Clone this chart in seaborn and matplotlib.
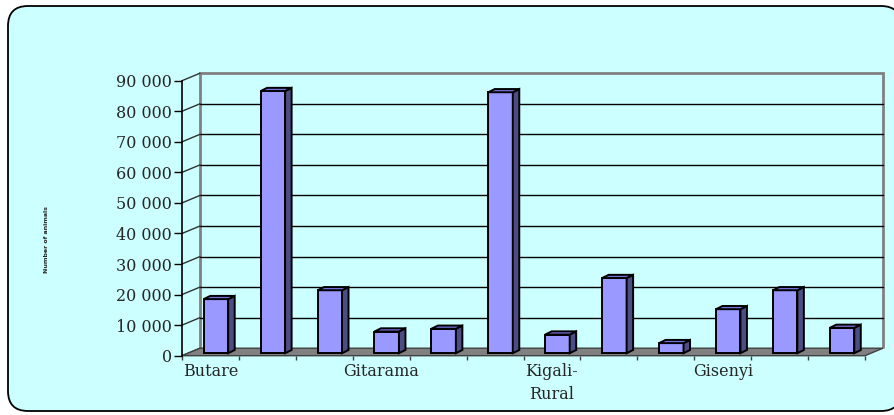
import numpy as np
import pandas as pd
import matplotlib
matplotlib.use("Agg")
import matplotlib.pyplot as plt
import seaborn as sns
from matplotlib.patches import Polygon, FancyBboxPatch
from matplotlib.lines import Line2D
from matplotlib.transforms import Affine2D, IdentityTransform

# ---- data ----
regions = ["Butare", "Gikongoro", "Cyangugu", "Gitarama", "Kibuye", "Kigali-Ville",
           "Kigali-Rural", "Kibungo", "Umutara", "Gisenyi", "Byumba", "Ruhengeri"]
counts = [17700, 85800, 20600, 7100, 8000, 85400, 6100, 24600, 3300, 14400, 20600, 8300]
shown_labels = ["Butare", "Gitarama", "Kigali-Rural", "Gisenyi"]
yticks = [0, 10000, 20000, 30000, 40000, 50000, 60000, 70000, 80000, 90000]
ytick_labels = ["0", "10 000", "20 000", "30 000", "40 000", "50 000",
                "60 000", "70 000", "80 000", "90 000"]
ylabel = "Number of animals"

sns.set_theme(style="white")
plt.rcParams["font.family"] = ["DejaVu Serif"]

W, H = 895, 415
fig = plt.figure(figsize=(W / 100, H / 100), dpi=100)
fig.patch.set_facecolor("white")
CYAN = "#CCFFFF"

# rounded background
bg = FancyBboxPatch((8, H - 411), 893, 405, boxstyle="round,pad=0,rounding_size=20",
                    transform=IdentityTransform(), facecolor=CYAN, edgecolor="black",
                    linewidth=1.3, zorder=0)
fig.add_artist(bg)

# front plane of the chart
x_left, x_right = 182, 865
y_bot, y_top = H - 355.7, H - 80.7
ax = fig.add_axes([x_left / W, y_bot / H, (x_right - x_left) / W, (y_top - y_bot) / H])
ax.set_facecolor("none")

df = pd.DataFrame({"region": regions, "count": counts})
sns.barplot(data=df, x="region", y="count", order=regions, ax=ax, color="#9999FF",
            saturation=1, width=0.43, edgecolor="black", linewidth=1.4, zorder=5)

ax.set_xlim(-0.5, len(regions) - 0.5)
ax.set_ylim(0, 90000)
ax.set_xlabel("")
ax.set_ylabel("")
ax.set_yticks(yticks)
ax.set_yticklabels(ytick_labels, fontsize=11.5)
ax.set_xticks(range(len(regions)))
ax.set_xticklabels([r.replace("-", "-\n") if r in shown_labels else "" for r in regions],
                   fontsize=11.5, linespacing=1.4)
ax.set_xticks(np.arange(-0.5, len(regions), 1.0), minor=True)
ax.tick_params(axis="y", length=5.8, width=1, color="black", pad=1.4, left=True)
ax.tick_params(axis="x", which="major", length=0, pad=5.5)
ax.tick_params(axis="x", which="minor", length=3, width=1, color="#404040", bottom=True)
for s in ["top", "right", "bottom"]:
    ax.spines[s].set_visible(False)
ax.spines["left"].set_color("black")
ax.spines["left"].set_linewidth(1.2)
ax.grid(False)

fig.canvas.draw()

DX, DY = 18, 7.5   # depth of the chart
fx0, fy0 = x_left, y_bot
fx1, fy1 = x_right, y_top

# back wall
wall = Polygon([(fx0 + DX, fy0 + DY), (fx0 + DX, fy1 + DY), (fx1 + DX, fy1 + DY),
                (fx1 + DX, fy0 + DY)], closed=False, transform=IdentityTransform(),
               facecolor="none", edgecolor="#808080", linewidth=2, zorder=1)
fig.add_artist(wall)
for yv in yticks:
    yd = ax.transData.transform((0, yv))[1]
    if 0 < yv < 90000:
        fig.add_artist(Line2D([fx0 + DX, fx1 + DX], [yd + DY, yd + DY], color="black",
                              linewidth=1, transform=IdentityTransform(), zorder=1))
    fig.add_artist(Line2D([fx0, fx0 + DX], [yd, yd + DY], color="#303030",
                          linewidth=1, transform=IdentityTransform(), zorder=1))

# floor
floor = Polygon([(fx0, fy0), (fx1, fy0), (fx1 + DX, fy0 + DY), (fx0 + DX, fy0 + DY)],
                closed=True, transform=IdentityTransform(), facecolor="#808080",
                edgecolor="#404040", linewidth=1, zorder=2)
fig.add_artist(floor)

# 3D bars
bdx, bdy = 5.5, 2.5
sdx, sdy = 6.5, 3.2
for p in ax.patches:
    p.set_transform(ax.transData + Affine2D().translate(bdx, bdy))
    x0, x1 = p.get_x(), p.get_x() + p.get_width()
    h = p.get_height()
    (dx0, dy0) = ax.transData.transform((x0, 0)) + np.array([bdx, bdy])
    (dx1, dy1) = ax.transData.transform((x1, h)) + np.array([bdx, bdy])
    side = Polygon([(dx1, dy0), (dx1 + sdx, dy0 + sdy), (dx1 + sdx, dy1 + sdy), (dx1, dy1)],
                   closed=True, transform=IdentityTransform(), facecolor="#4D4D85",
                   edgecolor="black", linewidth=1.4, zorder=4)
    top = Polygon([(dx0, dy1), (dx1, dy1), (dx1 + sdx, dy1 + sdy), (dx0 + sdx, dy1 + sdy)],
                  closed=True, transform=IdentityTransform(), facecolor="#7373D9",
                  edgecolor="black", linewidth=1.4, zorder=4)
    fig.add_artist(side)
    fig.add_artist(top)
    p.set_zorder(5)
    p.set_clip_on(False)
ax.set_zorder(3)

fig.text(47 / W, 1 - 240 / H, ylabel, rotation=90, ha="center", va="center",
         fontsize=4.5, fontweight="bold", family="DejaVu Sans")

fig.savefig("out.png", dpi=100, facecolor="white")
